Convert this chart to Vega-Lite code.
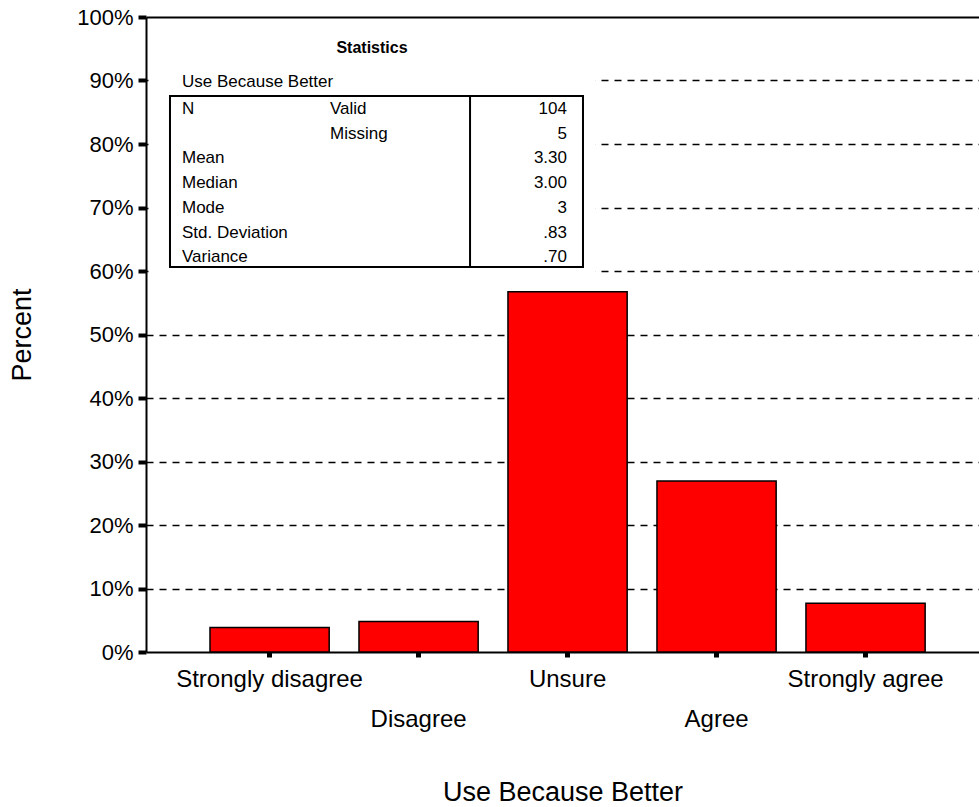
{
  "$schema": "https://vega.github.io/schema/vega-lite/v6.json",
  "width": 833,
  "height": 635,
  "autosize": {"type": "none"},
  "padding": {"left": 146, "top": 17, "right": 0, "bottom": 155},
  "background": "white",
  "config": {
    "view": {"stroke": null},
    "font": "Liberation Sans",
    "text": {"font": "Liberation Sans", "color": "black"}
  },
  "datasets": {
    "freq": [
      {"response": "Strongly disagree", "percent": 0.0385},
      {"response": "Disagree", "percent": 0.0481},
      {"response": "Unsure", "percent": 0.5673},
      {"response": "Agree", "percent": 0.2692},
      {"response": "Strongly agree", "percent": 0.0769}
    ],
    "stats": [
      {"row": 0, "label": "N", "sub": "Valid", "value": "104"},
      {"row": 1, "label": "", "sub": "Missing", "value": "5"},
      {"row": 2, "label": "Mean", "sub": "", "value": "3.30"},
      {"row": 3, "label": "Median", "sub": "", "value": "3.00"},
      {"row": 4, "label": "Mode", "sub": "", "value": "3"},
      {"row": 5, "label": "Std. Deviation", "sub": "", "value": ".83"},
      {"row": 6, "label": "Variance", "sub": "", "value": ".70"}
    ]
  },
  "layer": [
    {
      "data": {"name": "freq"},
      "mark": {"type": "bar", "fill": "#ff0000", "stroke": "black", "strokeWidth": 1.5},
      "encoding": {
        "x": {
          "field": "response",
          "type": "nominal",
          "sort": ["Strongly disagree", "Disagree", "Unsure", "Agree", "Strongly agree"],
          "scale": {"paddingInner": 0.2, "paddingOuter": 0.3955, "align": 0.543},
          "title": "Use Because Better",
          "axis": {
            "labelAngle": 0,
            "labelFontSize": 24,
            "labelColor": "black",
            "labelLimit": 0,
            "labelOverlap": false,
            "labelPadding": {
              "condition": {"test": "datum.value == 'Disagree' || datum.value == 'Agree'", "value": 50},
              "value": 10
            },
            "domainColor": "black",
            "domainWidth": 2,
            "tickColor": "black",
            "tickSize": 5,
            "tickWidth": 5,
            "titleFontSize": 27,
            "titleFontWeight": "normal",
            "titleColor": "black",
            "titlePadding": 48
          }
        },
        "y": {
          "field": "percent",
          "type": "quantitative",
          "scale": {"domain": [0, 1], "nice": false},
          "title": "Percent",
          "axis": {
            "format": ".0%",
            "values": [0, 0.1, 0.2, 0.3, 0.4, 0.5, 0.6, 0.7, 0.8, 0.9, 1],
            "grid": true,
            "gridColor": "black",
            "gridWidth": {"condition": {"test": "datum.value >= 1", "value": 2}, "value": 1.5},
            "gridDash": {"condition": {"test": "datum.value >= 1", "value": []}, "value": [7, 6]},
            "gridOpacity": {"condition": {"test": "datum.value == 0", "value": 0}, "value": 1},
            "domainColor": "black",
            "domainWidth": 2,
            "tickColor": "black",
            "tickSize": 8,
            "tickWidth": 4,
            "labelFontSize": 22,
            "labelColor": "black",
            "labelPadding": 5,
            "titleFontSize": 27,
            "titleFontWeight": "normal",
            "titleColor": "black",
            "titlePadding": 40
          }
        }
      }
    },
    {
      "layer": [
        {
          "data": {"values": [{}]},
          "mark": {"type": "rect", "fill": "white", "stroke": null},
          "encoding": {
            "x": {"datum": 0.3, "type": "quantitative", "scale": {"domain": [0, 100], "nice": false, "zero": false}, "axis": null},
            "x2": {"datum": 54.0},
            "y": {"datum": -3.0, "type": "quantitative", "scale": {"domain": [-3.725, 21.98], "reverse": true, "nice": false, "zero": false}, "axis": null},
            "y2": {"datum": 6.75}
          }
        },
        {
          "data": {"values": [{}]},
          "mark": {"type": "rect", "fill": null, "fillOpacity": 0, "stroke": "black", "strokeWidth": 2},
          "encoding": {
            "x": {"datum": 2.88, "type": "quantitative"},
            "x2": {"datum": 52.46},
            "y": {"datum": -0.53, "type": "quantitative"},
            "y2": {"datum": 6.4}
          }
        },
        {
          "data": {"values": [{}]},
          "mark": {"type": "rule", "stroke": "black", "strokeWidth": 2},
          "encoding": {
            "x": {"datum": 38.9, "type": "quantitative"},
            "y": {"datum": -0.53, "type": "quantitative"},
            "y2": {"datum": 6.4}
          }
        },
        {
          "data": {"values": [{"text": "Statistics"}]},
          "mark": {"type": "text", "fontSize": 16, "fontWeight": "bold", "align": "center", "baseline": "middle"},
          "encoding": {
            "x": {"datum": 27.13, "type": "quantitative"},
            "y": {"datum": -2.47, "type": "quantitative"},
            "text": {"field": "text"}
          }
        },
        {
          "data": {"values": [{"text": "Use Because Better"}]},
          "mark": {"type": "text", "fontSize": 17, "align": "left", "baseline": "middle"},
          "encoding": {
            "x": {"datum": 4.32, "type": "quantitative"},
            "y": {"datum": -1.1, "type": "quantitative"},
            "text": {"field": "text"}
          }
        },
        {
          "data": {"name": "stats"},
          "mark": {"type": "text", "fontSize": 17, "align": "left", "baseline": "middle"},
          "encoding": {
            "x": {"datum": 4.32, "type": "quantitative"},
            "y": {"field": "row", "type": "quantitative"},
            "text": {"field": "label"}
          }
        },
        {
          "data": {"name": "stats"},
          "mark": {"type": "text", "fontSize": 17, "align": "left", "baseline": "middle"},
          "encoding": {
            "x": {"datum": 22.09, "type": "quantitative"},
            "y": {"field": "row", "type": "quantitative"},
            "text": {"field": "sub"}
          }
        },
        {
          "data": {"name": "stats"},
          "mark": {"type": "text", "fontSize": 17, "align": "right", "baseline": "middle"},
          "encoding": {
            "x": {"datum": 50.54, "type": "quantitative"},
            "y": {"field": "row", "type": "quantitative"},
            "text": {"field": "value"}
          }
        }
      ]
    }
  ],
  "resolve": {"scale": {"x": "independent", "y": "independent"}}
}
